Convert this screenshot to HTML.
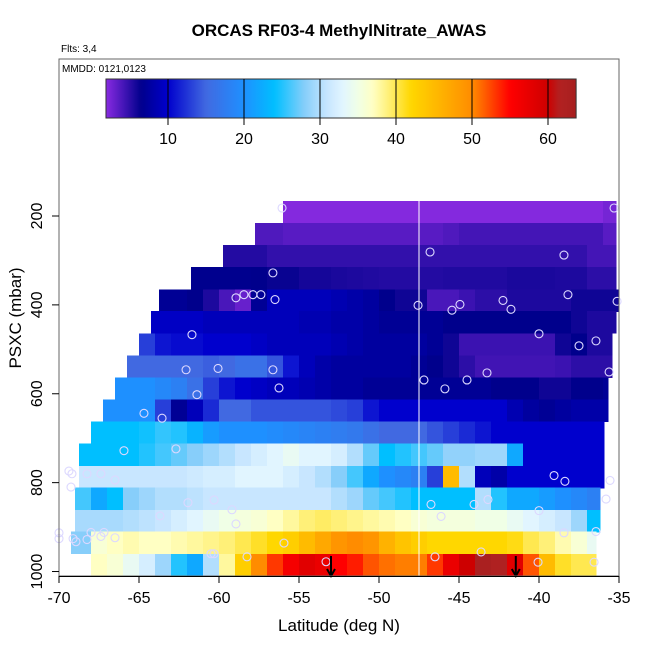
<!DOCTYPE html>
<html><head><meta charset="utf-8"><style>
html,body{margin:0;padding:0;background:#fff;}
svg{display:block;font-family:"Liberation Sans",sans-serif;}
</style></head><body>
<svg id="chart" width="650" height="650" viewBox="0 0 650 650">
<defs><linearGradient id="cbgrad" x1="0" x2="1" y1="0" y2="0"></linearGradient></defs>
<text x="339" y="36" text-anchor="middle" font-size="17" font-weight="bold">ORCAS RF03-4 MethylNitrate_AWAS</text>
<text x="61" y="52" font-size="10">Flts: 3,4</text>
<text x="62" y="72" font-size="10">MMDD: 0121,0123</text>
<g id="heat" shape-rendering="crispEdges"></g>
<g id="pts"></g>
<g id="cbar"></g>
<g id="axes"></g>
<text x="339" y="631" text-anchor="middle" font-size="17">Latitude (deg N)</text>
<text transform="translate(21,318) rotate(-90)" text-anchor="middle" font-size="17">PSXC (mbar)</text>
</svg>
<script>
const bandPressures=[191,241,290,340,390,439,489,539,588,638,687,737,787,836,886,935,985];
const bandStarts=[-56,-57.75,-59.75,-61.75,-63.75,-64.25,-65,-65.75,-66.5,-67.25,-68,-68.75,-68.75,-69,-69,-69.25,-68];
const bandEnds=[-35.19,-35.19,-35.19,-35.19,-35,-35.19,-35.44,-35.44,-35.69,-35.69,-35.94,-35.94,-35.94,-36.19,-36.19,-36.44,-36.44];
const band0=[2,2,2,2,2,2,2,2,2,2,2,2,2,2,2,2,2,2,2,2,2.5];
const band1=[3.8,3.8,3.5,3.5,3.5,3.5,3.5,3.5,3.5,3.5,3.5,3.5,3.8,4.2,4.2,4.2,4.2,4.2,4.2,4.2,4.2,4.2,3.5];
const band2=[5.3,5.3,5.3,4.8,4.8,4.8,4.8,4.8,4.8,4.8,4.8,4.8,4.8,4.8,4.8,4.8,4.8,4.8,4.8,4.8,4.8,4.8,4.8,4.2,4.2];
const band3=[6.6,6.6,6.6,6.6,6.5,6.2,6.2,5.8,5.8,5.6,5.5,5.4,5.3,5.3,5.3,5.3,5.4,5.4,5.4,5.4,5.6,5.6,5.6,5.5,5.5,5.0,5.0];
const band4=[7,7,6.5,5.5,4,3,7,9,9,9,9,8.5,8,7.5,6.5,6,6,4,4,4.5,5,5,5.5,5.5,5.5,5.5,6,6,6];
const band5=[9.5,9.5,9.5,9.5,9,9,9,9,9,9,8.5,8.5,8,8,7.5,7,7,7,7,6.5,6.5,6.5,6.5,6.5,6.5,6.5,6.5,6,5.5,5.5];
const band6=[13,11,10.5,10.5,10,10,10,9.5,9,9,9,9,8.5,8,7.5,7.5,7.5,7.5,7,6,4.5,4.5,4.5,4.5,4.5,4.5,6,6.5,5.5,5.5];
const band7=[15,15,15,15,15,14.5,15,16,16,14,11,9,8,7.5,7.5,7.5,7.5,7.5,7,6.5,6,5,4.3,4.3,4.3,4.3,4.3,4.5,5,5,5];
const band8=[20,20,20,19,18,16,13,11,10,9.5,9,9,8.5,8,7.5,7.5,7,7,7,7,7,7,7,7,6.5,6.5,6.5,6,6,6.5,6.5,7];
const band9=[20,20,20,20,13,7,9,12,15,15,14,14,14,14,14,13.5,13,11,10,10,10,10,10,10,10,10,8.5,7.5,7,7.5,8,8,8];
const band10=[24,24,24,24.5,25.5,25,23,21,20,20,20,19.5,19,18.5,18,17.5,17,16,15,15,15,14,13,12,11,10,10,10,10,10,10,10,10];
const band11=[24,24,24,24,25,26,27,28,29,30,31,32,33,34,33,33,32,30,27,24,25,26,27,28.5,28.5,29,29,22,10,10,10,10,10,10];
const band12=[31,31,31,31,31,31,31,31.5,32,32,33,33,33,32,31,30,28,26,22,20,19,18,13,45,30,9,8,10,10,10,10,10,10,10];
const band13=[26,22,24,28,29,30,30,30.5,31,31,31,31,31,31,31,31,30,29,27,26,25,24,24,24,24,30,25,22,22,21,20,19,18];
const band14=[29.5,29.5,29.5,30,30.5,31,32,33,34,35,35.5,36,37,38,39,39.5,39,38.5,38,37.5,37,36,35.5,35.5,35.5,35,35,34,33,32,31,29,24];
const band15=[28,28,36,37,37.5,37,37,37.5,38,38.5,39,40,41,42,43,45,47,49,50,49,46,44,43,42,42,42,42,42,41.5,40,39,37.5,36,34];
const band16=[37,36,34,32,29,25,22,30,38,43,50,53,56,58,57,55,54,52,51,50.5,50.5,53,57,60,63,62,58,52,45,41,40,40];
const bandValues=[band0,band1,band2,band3,band4,band5,band6,band7,band8,band9,band10,band11,band12,band13,band14,band15,band16];
const pointLat=[-56.06,-35.31,-46.81,-38.44,-56.63,-58.94,-58.44,-57.88,-57.38,-56.5,-47.56,-45.44,-44.94,-42.25,-41.75,-38.19,-35.12,-61.69,-40.0,-37.5,-36.44,-62.06,-60.06,-56.63,-43.25,-35.62,-56.25,-47.19,-45.88,-44.5,-61.38,-64.69,-63.56,-65.94,-62.69,-69.38,-69.19,-68.25,-67.38,-66.5,-69.25,-61.94,-59.19,-60.31,-63.69,-58.94,-55.94,-70.0,-70.0,-69.12,-68.94,-68.25,-68.0,-67.38,-67.19,-66.5,-60.5,-60.31,-58.25,-53.31,-40.0,-38.44,-36.44,-46.75,-46.12,-44.06,-43.19,-35.81,-39.06,-38.38,-35.56,-46.5,-43.62,-40.06,-36.56];
const pointP=[182,182,281,288,328,384,377,377,377,388,401,412,399,390,410,377,392,467,465,492,481,546,543,546,553,551,587,569,589,569,602,644,655,728,724,774,780,780,780,794,810,845,861,839,875,893,936,913,926,926,933,928,912,921,912,924,960,960,967,978,863,913,910,849,876,849,838,837,784,797,795,967,956,979,979];
const arrowLat=[-53.0,-41.45];
const xTicks=[-70,-65,-60,-55,-50,-45,-40,-35];
const yTicks=[200,400,600,800,1000];
const cbarTicks=[10,20,30,40,50,60];

const NS='http://www.w3.org/2000/svg';
function xs(lat){return 59+(lat+70)*16;}
function ys(p){return 216+(p-200)*0.4444;}
function cb(v){return 168+(v-10)*7.6;}
const stops=[[1.8,[138,43,226]],[6.5,[0,0,140]],[10,[0,0,205]],[15,[65,105,225]],[20,[30,144,255]],[24,[0,191,255]],[28,[135,206,250]],[31,[200,230,255]],[33,[225,245,255]],[35,[240,255,230]],[37,[255,255,195]],[39,[255,240,120]],[42,[255,215,0]],[50,[255,140,0]],[55,[255,0,0]],[60,[205,0,0]],[61.5,[178,34,34]],[64,[165,30,30]]];
function col(v){
  if(v<=stops[0][0])return 'rgb('+stops[0][1]+')';
  for(let i=1;i<stops.length;i++){
    if(v<=stops[i][0]){const a=stops[i-1],b=stops[i];const t=(v-a[0])/(b[0]-a[0]);
      const c=a[1].map((q,j)=>Math.round(q+(b[1][j]-q)*t));return 'rgb('+c.join(',')+')';}
  }
  return 'rgb('+stops[stops.length-1][1]+')';
}
function mk(tag,attrs,parent){const e=document.createElementNS(NS,tag);for(const k in attrs)e.setAttribute(k,attrs[k]);parent.appendChild(e);return e;}

const heat=document.getElementById('heat');
const half=24.8;
bandValues.forEach((vals,k)=>{
  const g=mk('g',{},heat);
  
  
  const y0=ys(bandPressures[k]-half),y1=ys(bandPressures[k]+half);
  const base=Math.floor(bandStarts[k]);
  vals.forEach((v,i)=>{
    const a=Math.max(base+i,bandStarts[k]),b=Math.min(base+i+1,bandEnds[k]);
    if(b<=a)return;
    const r=mk('rect',{x:xs(a),y:y0,width:xs(b)-xs(a)+0.6,height:y1-y0+0.5,fill:col(v)},g);
    
    
  });
});
const vline=mk('line',{x1:xs(-47.5),x2:xs(-47.5),y1:ys(bandPressures[0]-half),y2:576,stroke:'#fff','stroke-width':1.3},heat);



const pts=document.getElementById('pts');
pointLat.forEach((la,i)=>{
  const c=mk('circle',{cx:xs(la),cy:ys(pointP[i]),r:4,fill:'none',stroke:'#dcd8ff','stroke-width':1.1},pts);
  
  
});
arrowLat.forEach(la=>{
  const g=mk('g',{stroke:'#000','stroke-width':2,fill:'none'},pts);
  
  
  const x=xs(la);
  mk('line',{x1:x,x2:x,y1:556,y2:576},g);
  mk('polyline',{points:(x-4)+',569 '+x+',576 '+(x+4)+',569'},g);
});

const grad=document.getElementById('cbgrad');
const vmin=1.84,vmax=63.7;
for(let v=vmin;v<=vmax+0.01;v+=0.5){
  mk('stop',{offset:((v-vmin)/(vmax-vmin)).toFixed(4),'stop-color':col(v)},grad);
}
const cbar=document.getElementById('cbar');
const cbr=mk('rect',{x:cb(vmin),y:79,width:cb(vmax)-cb(vmin),height:39,fill:'url(#cbgrad)',stroke:'#333','stroke-width':1},cbar);


cbarTicks.forEach(t=>{
  const x=cb(t);
  const l=mk('line',{x1:x,x2:x,y1:79,y2:125,stroke:'#000','stroke-width':1},cbar);
  
  
  const tx=mk('text',{x:x,y:144,'text-anchor':'middle','font-size':16},cbar);
  tx.textContent=t;
  
  
});

const axes=document.getElementById('axes');
const frame=mk('rect',{x:59,y:59,width:560,height:517,fill:'none',stroke:'#666','stroke-width':1},axes);


const xl=mk('line',{x1:59,x2:619,y1:576.5,y2:576.5,stroke:'#000','stroke-width':1},axes);


xTicks.forEach(t=>{
  const x=xs(t);
  const l=mk('line',{x1:x,x2:x,y1:576,y2:583,stroke:'#000'},axes);
  
  
  const tx=mk('text',{x:x,y:603,'text-anchor':'middle','font-size':16},axes);
  tx.textContent=t;
  
  
});
yTicks.forEach(t=>{
  const y=ys(t);
  const l=mk('line',{x1:52,x2:59,y1:y,y2:y,stroke:'#000'},axes);
  
  
  const tx=mk('text',{transform:'translate(42,'+y+') rotate(-90)','text-anchor':'middle','font-size':16},axes);
  tx.textContent=t;
  
  
});
</script>
</body></html>
